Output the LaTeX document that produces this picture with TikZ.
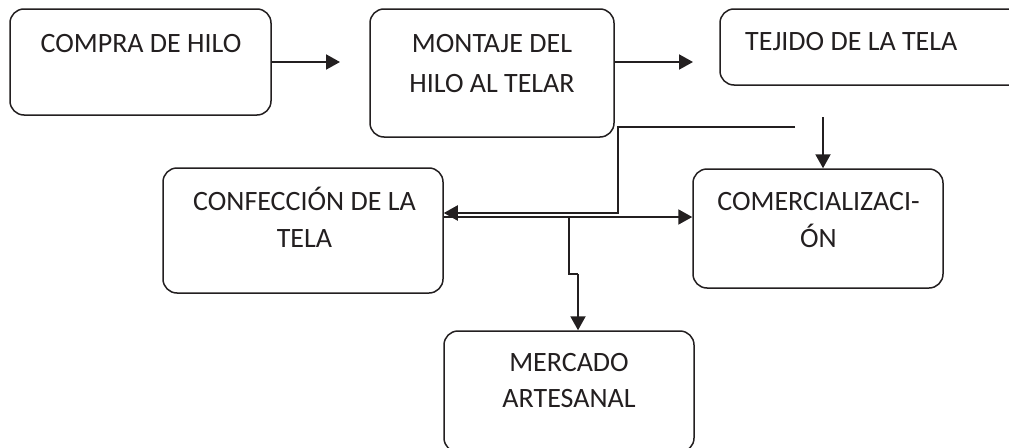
\documentclass[tikz,border=0pt]{standalone}
\usepackage{fontspec}
\setmainfont{Carlito}
\usetikzlibrary{arrows.meta}
\definecolor{ink}{HTML}{231F20}
\tikzset{
  box/.style={draw=ink, line width=1.5pt, rounded corners=14pt, inner sep=0pt},
  lbl/.style={text=ink, font=\fontsize{28}{37}\selectfont, align=center, inner sep=0pt, anchor=base},
  conn/.style={draw=ink, line width=2pt},
  arr/.style={conn, -{Triangle[length=14pt,width=15pt]}}
}
\begin{document}
\begin{tikzpicture}[x=1pt,y=-1pt]
\clip (0,0) rectangle (1009,447);
\fill[white] (0,0) rectangle (1009,447);
% boxes
\node[box, minimum width=261pt, minimum height=106pt] (b1) at (140.5,62) {};
\node[box, minimum width=244pt, minimum height=128pt] (b2) at (492,73) {};
\node[box, minimum width=310pt, minimum height=76pt] (b3) at (875,47) {};
\node[box, minimum width=280pt, minimum height=125pt] (b4) at (303,230.5) {};
\node[box, minimum width=250pt, minimum height=119pt] (b5) at (818,228.5) {};
\node[box, minimum width=250pt, minimum height=121pt] (b6) at (569,391.5) {};
% texts (base anchor = baseline of last line)
\node[lbl] (t1) at (141,52) {COMPRA DE HILO};
\node[lbl, font=\fontsize{28}{40}\selectfont] (t2) at (492,92) {MONTAJE DEL\\HILO AL TELAR};
\node[lbl, anchor=base west] (t3) at (745,50) {TEJIDO DE LA TELA};
\node[lbl] (t4) at (304.5,247) {CONFECCIÓN DE LA\\TELA};
\node[lbl] (t5) at (818.5,247) {COMERCIALIZACI-\\ÓN};
\node[lbl, font=\fontsize{28}{36}\selectfont] (t6) at (569,407) {MERCADO\\ARTESANAL};
% free ends
\coordinate (e1) at (340,62);
\coordinate (e2) at (693,62);
\coordinate (s3) at (823,117);
\coordinate (s4) at (795,127);
\coordinate (k4a) at (618,127);
\coordinate (k4b) at (618,213);
\coordinate (j6) at (569,217);
\coordinate (k6a) at (569,274);
\coordinate (k6b) at (578,274);
% connectors
\draw[arr] (b1.east |- e1) -- (e1);
\draw[arr] (b2.east |- e2) -- (e2);
\draw[arr] (s3) -- (s3 |- b5.north);
\draw[arr] (s4) -- (k4a) -- (k4b) -- (k4b -| b4.east);
\draw[arr] (b4.east |- j6) -- (j6 -| b5.west);
\draw[conn] (j6) -- (k6a) -- (k6b);
\draw[arr] (k6b) -- (k6b |- b6.north);
\end{tikzpicture}
\end{document}
